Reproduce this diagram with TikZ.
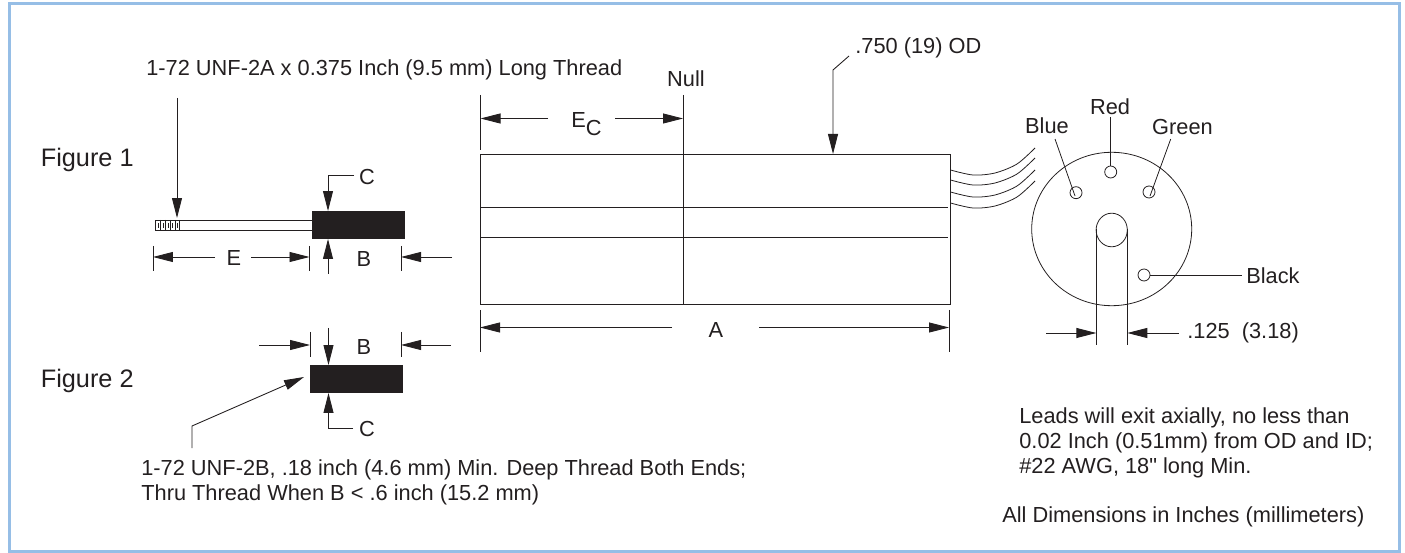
\documentclass[tikz,border=0pt]{standalone}
\usepackage{fontspec}
\setmainfont{Liberation Sans}
\newfontfamily\plainsans{Liberation Sans}
\definecolor{framebl}{RGB}{150, 190, 230}
\definecolor{inkdark}{RGB}{35, 31, 32}
\usetikzlibrary{arrows.meta, positioning, calc}

\tikzset{
  part/.style={draw=inkdark, line width=0.5pt},
  thin part/.style={draw=inkdark, line width=0.45pt},
  dimline/.style={draw=inkdark, line width=0.5pt},
  dimarrow/.style={draw=inkdark, line width=0.5pt, -{Triangle[length=0.4cm, width=0.2cm]}},
  label/.style={text=inkdark, font=\fontsize{12.4}{14}\selectfont, inner sep=0pt},
  figlabel/.style={text=inkdark, font=\fontsize{14.4}{16}\selectfont, inner sep=0pt},
  hole/.style={circle, draw=inkdark, line width=0.45pt, minimum size=0.24cm, inner sep=0pt},
}

\begin{document}
\begin{tikzpicture}[x=0.02cm, y=-0.02cm]
  \useasboundingbox (0, 0) rectangle (1405, 553);
  % Frame
  \draw[framebl, line width=1.7pt] (9.5, 4) rectangle (1399.5, 551.5);

  % Figure labels
  \node[figlabel, anchor=west] (figone) at (40.5, 160) {Figure 1};
  \node[figlabel, anchor=west] (figtwo) at (40.5, 381) {Figure 2};

  % Figure 1 threaded rod
  \draw[part] (155, 220) rectangle (312, 230);
  \foreach \tx in {160.5, 165.5, 170, 175, 179.5} {
    \draw[thin part] (\tx, 220) -- (\tx, 230);
  }
  \foreach \tx in {158, 163, 168, 172.5, 177} {
    \draw[thin part] (\tx, 223) -- (\tx, 228);
  }
  \fill[inkdark] (312, 211) rectangle (405, 239);

  % Figure 1 thread callout
  \node[label, anchor=west] (threadone) at (146, 70) {1-72 UNF-2A x 0.375 Inch (9.5 mm) Long Thread};
  \draw[dimarrow] (177, 98) -- (177, 218);

  % Figure 1 dimensions
  \node[label] (cone) at (367, 177) {C};
  \draw[dimarrow] (354, 175) -- (328, 175) -- (328, 211);
  \draw[dimarrow] (328, 274) -- (328, 239);
  \draw[dimline] (153, 246) -- (153, 271);
  \draw[dimline] (309.5, 246) -- (309.5, 271);
  \draw[dimline] (401, 246) -- (401, 271);
  \node[label] (eone) at (234, 258) {E};
  \draw[dimarrow] (215, 257) -- (153, 257);
  \draw[dimarrow] (251, 257) -- (309.5, 257);
  \node[label] (bone) at (364, 259) {B};
  \draw[dimarrow] (452, 257) -- (401, 257);

  % Figure 2 block
  \fill[inkdark] (310, 365) rectangle (403, 393);
  \draw[dimline] (310, 332) -- (310, 357);
  \draw[dimline] (401, 332) -- (401, 357);
  \node[label] (btwo) at (364, 347) {B};
  \draw[dimarrow] (259, 345) -- (310, 345);
  \draw[dimarrow] (451, 345) -- (401, 345);
  \draw[dimarrow] (328.5, 328) -- (328.5, 365);
  \node[label] (ctwo) at (367, 429) {C};
  \draw[dimarrow] (353, 428) -- (328.5, 428) -- (328.5, 393);
  \draw[dimarrow] (192, 448) -- (192, 426) -- (304, 377);
  \node[label, anchor=west] (threadtwo) at (141, 470) {1-72 UNF-2B, .18 inch (4.6 mm) Min. Deep Thread Both Ends;};
  \node[label, anchor=west] (thrutwo) at (141, 495) {Thru Thread When B < .6 inch (15.2 mm)};

  % Main body
  \draw[part] (480, 154) rectangle (950, 304);
  \draw[part] (480, 207) -- (948, 207);
  \draw[part] (480, 237) -- (948, 237);
  \draw[part] (683, 95) -- (683, 304);
  \node[label] (null) at (686, 79) {Null};
  \draw[dimline] (480.5, 95) -- (480.5, 150);
  \node[label, anchor=base west] (ec) at (571, 128) {E\raisebox{-4.4pt}{C}};
  \draw[dimarrow] (548, 118.5) -- (480.5, 118.5);
  \draw[dimarrow] (615, 118.5) -- (683, 118.5);

  % Outside diameter callout
  \node[label, anchor=west] (odlbl) at (855, 48) {.750 (19) OD};
  \draw[dimarrow] (849, 56) -- (833, 70) -- (833, 154);

  % Length dimension
  \draw[dimline] (480, 310) -- (480, 352);
  \draw[dimline] (949, 310) -- (949, 352);
  \node[label] (alen) at (716, 330) {A};
  \draw[dimarrow] (672, 327.5) -- (480, 327.5);
  \draw[dimarrow] (759, 327.5) -- (949, 327.5);

  % Leads
  \foreach \dy in {0, 10, 22, 33} {
    \draw[thin part] plot[smooth, tension=0.5] coordinates {(950.5, 170+\dy) (973, 175+\dy) (995, 173+\dy) (1017, 164+\dy) (1035, 148+\dy)};
  }

  % End view
  \draw[thin part] (1111.7, 229) ellipse [x radius=80, y radius=76.7];
  \draw[thin part] (1111.7, 230) ellipse [x radius=15.6, y radius=16.8];
  \draw[part] (1096.3, 229) -- (1096.3, 345);
  \draw[part] (1127.3, 229) -- (1127.3, 345);

  % Lead holes
  \node[hole] (redhole) at (1110.7, 172) {};
  \node[hole] (bluehole) at (1076, 192.7) {};
  \node[hole] (greenhole) at (1149, 192) {};
  \node[hole] (blackhole) at (1144, 275) {};
  \node[label] (redlbl) at (1110, 107) {Red};
  \node[label] (bluelbl) at (1047, 126) {Blue};
  \node[label] (greenlbl) at (1182.5, 127) {Green};
  \node[label, anchor=west] (blacklbl) at (1246, 275.5) {Black};
  \draw[thin part] (1110.7, 117) -- (redhole.north);
  \draw[thin part] (1055, 139) -- (1075, 196);
  \draw[thin part] (1170.7, 139) -- (1150, 196);
  \draw[thin part] (blackhole.east) -- (1242, 275);

  % Slot dimension
  \node[label, anchor=west] (slotlbl) at (1187, 332.5) {.125~ (3.18)};
  \draw[dimarrow] (1046, 333) -- (1096.3, 333);
  \draw[dimarrow] (1179, 333) -- (1127.3, 333);

  % Notes
  \node[label, anchor=west] (noteone) at (1019, 418) {Leads will exit axially, no less than};
  \node[label, anchor=west] (notetwo) at (1019, 443) {0.02 Inch (0.51mm) from OD and ID;};
  \node[label, anchor=west] (notethree) at (1019, 468) {\#22 AWG, 18{\plainsans"} long Min.};
  \node[label, anchor=west] (notefour) at (1002, 517) {All Dimensions in Inches (millimeters)};
\end{tikzpicture}
\end{document}
